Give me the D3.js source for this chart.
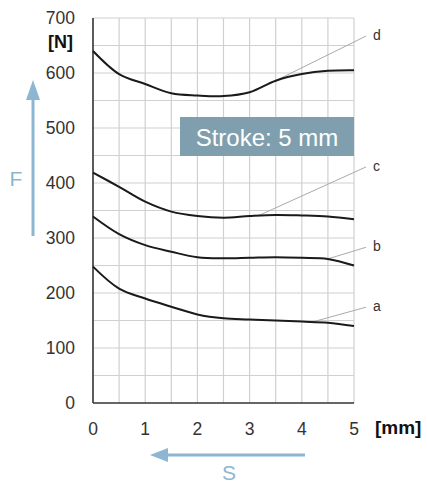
<!DOCTYPE html>
<html><head><meta charset="utf-8">
<script src="https://cdn.jsdelivr.net/npm/d3@7"></script>
<style>body{margin:0;background:#fff;} svg{display:block;font-family:"Liberation Sans",Arial,sans-serif;}</style>
</head><body>
<svg id="c" width="427" height="484"></svg>
<script>
const strokeMM = [0, 0.5, 1, 1.5, 2, 2.5, 3, 3.5, 4, 4.5, 5];
const curveA = [248, 208, 190, 175, 161, 154, 152, 150, 148, 146, 140];
const curveB = [339, 307, 287, 275, 265, 263, 264, 265, 264, 262, 250];
const curveC = [419, 393, 366, 348, 340, 337, 340, 342, 341, 339, 334];
const curveD = [640, 598, 580, 563, 559, 558, 565, 586, 598, 604, 605];
const seriesNames = ["a", "b", "c", "d"];
const xTicks = [0, 1, 2, 3, 4, 5];
const yTicks = [0, 100, 200, 300, 400, 500, 600, 700];
const xGrid = [0.5, 1, 1.5, 2, 2.5, 3, 3.5, 4, 4.5, 5];
const yGrid = [50, 100, 150, 200, 250, 300, 350, 400, 450, 500, 550, 600, 650, 700];
// where each leader line leaves its curve (mm) and the label's level (N)
const leaderX = [4.2, 4.5, 3.17, 3.5];
const labelY = [176, 285, 431, 669];

const svg = d3.select("#c");
const x = d3.scaleLinear().domain([0, 5]).range([93, 354]);
const y = d3.scaleLinear().domain([0, 700]).range([403, 18]);

svg.append("g").selectAll("line").data(xGrid).join("line")
  .attr("x1", d => x(d)).attr("x2", d => x(d)).attr("y1", y(0)).attr("y2", y(700))
  .attr("stroke", "#d0d0d0").attr("stroke-width", 1.2);
svg.append("g").selectAll("line").data(yGrid).join("line")
  .attr("x1", x(0)).attr("x2", x(5)).attr("y1", d => y(d)).attr("y2", d => y(d))
  .attr("stroke", "#d0d0d0").attr("stroke-width", 1.2);

svg.append("line").attr("x1", x(0)).attr("x2", x(0)).attr("y1", y(0)).attr("y2", y(700)).attr("stroke", "#333").attr("stroke-width", 1.6);
svg.append("line").attr("x1", x(0)).attr("x2", x(5)).attr("y1", y(0)).attr("y2", y(0)).attr("stroke", "#333").attr("stroke-width", 1.6);

svg.append("g").selectAll("text").data(yTicks).join("text")
  .attr("x", 75).attr("y", d => y(d)).attr("dy", "0.36em").attr("text-anchor", "end")
  .attr("font-size", 17.5).attr("fill", "#333").text(d => d);
svg.append("g").selectAll("text").data(xTicks).join("text")
  .attr("x", d => x(d)).attr("y", 429).attr("dy", "0.36em").attr("text-anchor", "middle")
  .attr("font-size", 17.5).attr("fill", "#333").text(d => d);
svg.append("text").attr("x", 73).attr("y", 42).attr("dy", "0.36em").attr("text-anchor", "end")
  .attr("font-size", 18).attr("font-weight", "bold").attr("fill", "#111").text("[N]");
svg.append("text").attr("x", 375).attr("y", 427).attr("dy", "0.36em")
  .attr("font-size", 19).attr("font-weight", "bold").attr("fill", "#111").text("[mm]");

const all = [curveA, curveB, curveC, curveD];
const line = d3.line().x((d, i) => x(strokeMM[i])).y(d => y(d)).curve(d3.curveCatmullRom.alpha(0.5));
all.forEach((s, k) => {
  const lx = leaderX[k];
  const i0 = Math.floor(lx / 0.5), t = (lx - strokeMM[i0]) / 0.5;
  const val = s[i0] + (s[i0 + 1] - s[i0]) * t;
  svg.append("line").attr("x1", x(lx)).attr("y1", y(val)).attr("x2", x(5) + 12).attr("y2", y(labelY[k]) + 1)
    .attr("stroke", "#aaa").attr("stroke-width", 1);
  svg.append("path").attr("d", line(s)).attr("fill", "none").attr("stroke", "#1a1a1a").attr("stroke-width", 2);
  svg.append("text").attr("x", x(5) + 19).attr("y", y(labelY[k])).attr("dy", "0.36em")
    .attr("font-size", 14).attr("fill", "#333").text(seriesNames[k]);
});

svg.append("rect").attr("x", 180).attr("y", 117).attr("width", 174).attr("height", 39).attr("fill", "#7f9fae");
svg.append("text").attr("x", 267).attr("y", 137).attr("dy", "0.36em").attr("text-anchor", "middle")
  .attr("font-size", 24).attr("fill", "#fff").text("Stroke: 5 mm");

const blue = "#8cb6d2";
svg.append("line").attr("x1", 33).attr("x2", 33).attr("y1", 236).attr("y2", 95).attr("stroke", blue).attr("stroke-width", 3);
svg.append("path").attr("d", "M33,80 L26,100 L40,100 Z").attr("fill", blue);
svg.append("text").attr("x", 16).attr("y", 178).attr("dy", "0.36em").attr("text-anchor", "middle")
  .attr("font-size", 21).attr("fill", blue).text("F");
svg.append("line").attr("x1", 165).attr("x2", 305).attr("y1", 455).attr("y2", 455).attr("stroke", blue).attr("stroke-width", 3);
svg.append("path").attr("d", "M150,455 L168,448 L168,462 Z").attr("fill", blue);
svg.append("text").attr("x", 229).attr("y", 472).attr("dy", "0.36em").attr("text-anchor", "middle")
  .attr("font-size", 21).attr("fill", blue).text("S");
</script>
</body></html>
